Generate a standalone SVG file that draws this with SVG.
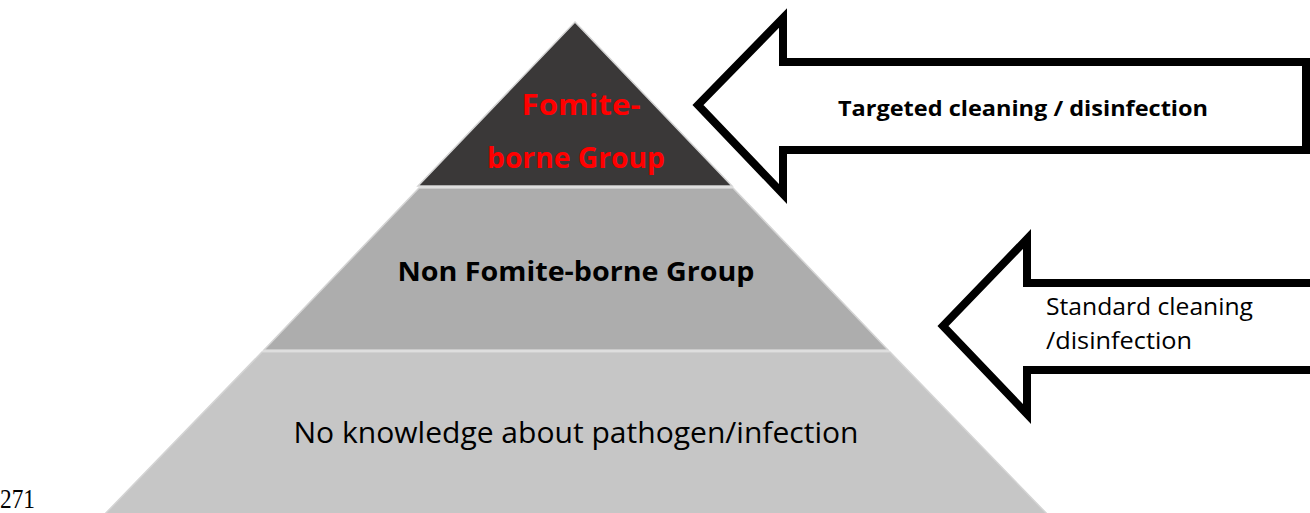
<svg xmlns="http://www.w3.org/2000/svg" width="1310" height="513" viewBox="0 0 1310 513">
<style>
.tier{stroke:#d4d4d4;stroke-width:1.5}
.arrow{fill:#fff;stroke:#000;stroke-width:8;stroke-linejoin:miter}
.t{font-family:"Open Sans","Liberation Sans",sans-serif;text-anchor:middle}
.b{font-weight:bold}
</style>
<rect width="1310" height="513" fill="#fff"/>
<g id="tier-bottom">
<polygon class="tier" fill="#c6c6c6" points="262,352 890,352 1049,516 103,516"/>
<text class="t" x="576" y="443" font-size="29" fill="#000" textLength="565" lengthAdjust="spacingAndGlyphs">No knowledge about pathogen/infection</text>
</g>
<g id="tier-middle">
<polygon class="tier" fill="#adadad" points="419,188 733,188 888,350 264,350"/>
<text class="t b" x="576" y="281" font-size="26" fill="#000" textLength="357" lengthAdjust="spacingAndGlyphs">Non Fomite-borne Group</text>
</g>
<g id="tier-top">
<polygon class="tier" fill="#3a3838" points="575,22 732,186 418,186"/>
<text class="t b" x="581" y="115" font-size="28" fill="#ff0000" textLength="119" lengthAdjust="spacingAndGlyphs">Fomite-</text>
<text class="t b" x="576" y="168" font-size="28" fill="#ff0000" textLength="178" lengthAdjust="spacingAndGlyphs">borne Group</text>
</g>
<g id="connectors">
<g id="arrow-targeted">
<polygon class="arrow" points="698,105 783,18 783,62 1306,62 1306,150 783,150 783,194"/>
<text class="t b" x="1023" y="116" font-size="22" fill="#000" textLength="370" lengthAdjust="spacingAndGlyphs">Targeted cleaning / disinfection</text>
</g>
<g id="arrow-standard">
<polygon class="arrow" points="943,326 1027,239 1027,283 1314,283 1314,370 1027,370 1027,414"/>
<text x="1046" y="315" font-family="Open Sans, Liberation Sans, sans-serif" font-size="23" fill="#000" textLength="207" lengthAdjust="spacingAndGlyphs">Standard cleaning</text>
<text x="1046" y="349" font-family="Open Sans, Liberation Sans, sans-serif" font-size="23" fill="#000" textLength="146" lengthAdjust="spacingAndGlyphs">/disinfection</text>
</g>
</g>
<text x="0" y="508" font-family="Liberation Serif, serif" font-size="27" fill="#000" textLength="35" lengthAdjust="spacingAndGlyphs">271</text>
</svg>
